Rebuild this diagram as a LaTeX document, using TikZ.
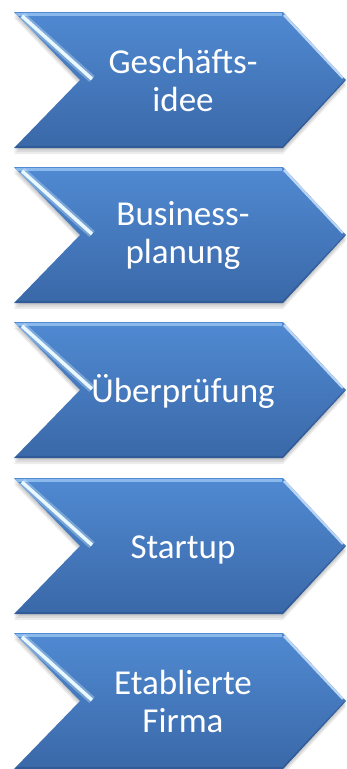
\documentclass[tikz,border=0pt]{standalone}
\usepackage{fontspec}
\setmainfont{Carlito}
\definecolor{chtop}{RGB}{80,138,210}
\definecolor{chbot}{RGB}{58,104,168}
\definecolor{hilite}{RGB}{232,248,255}
\definecolor{edgelt}{RGB}{140,185,236}
\definecolor{edgedk}{RGB}{44,82,138}
\tikzset{
  chevlabel/.style={text=white, font=\fontsize{35}{38}\selectfont, align=center, inner sep=0pt},
  chevshadow/.style={fill=black, opacity=0.07},
  chevbody/.style={top color=chtop, bottom color=chbot, middle color=chtop!50!chbot},
}
\begin{document}
\begin{tikzpicture}[x=1pt,y=-1pt]
\useasboundingbox (0,0) rectangle (346,769);
\fill[white] (0,0) rectangle (346,769);
\foreach \t/\dy/\an/\txt/\n in {12/0/center/{Geschäfts-\\idee}/a,
                                 167/0/center/{Business-\\planung}/b,
                                 322/12/base/{Überprüfung}/c,
                                 478/12/base/{Startup}/d,
                                 633/0/center/{Etablierte\\Firma}/e}{
  \foreach \s in {2,4,6}{
    \fill[chevshadow] (14,\t+\s) -- (283,\t+\s) -- (346,\t+68+\s) -- (283,\t+136+\s) -- (14,\t+136+\s) -- (80,\t+68+\s) -- cycle;
  }
  \shade[chevbody] (14,\t) -- (283,\t) -- (346,\t+68) -- (283,\t+136) -- (14,\t+136) -- (80,\t+68) -- cycle;
  \begin{scope}
    \clip (14,\t) -- (283,\t) -- (346,\t+68) -- (283,\t+136) -- (14,\t+136) -- (80,\t+68) -- cycle;
    \draw[line width=2.5, edgelt] (16,\t+2.5) -- (282,\t+2.5);
    \draw[line width=2.5, edgelt!60!white] (284,\t+3) -- (343,\t+66);
    \draw[line width=8, hilite, opacity=.3] (22,\t+4) -- (92,\t+67);
    \draw[line width=3.5, hilite] (22,\t+4) -- (92,\t+67);
    \draw[line width=2, edgedk, opacity=.6] (16,\t+135) -- (283,\t+135) -- (345,\t+69);
  \end{scope}
  \node[chevlabel, anchor=\an] (\n) at (183,\t+68+\dy) {\txt};
}
\end{tikzpicture}
\end{document}
